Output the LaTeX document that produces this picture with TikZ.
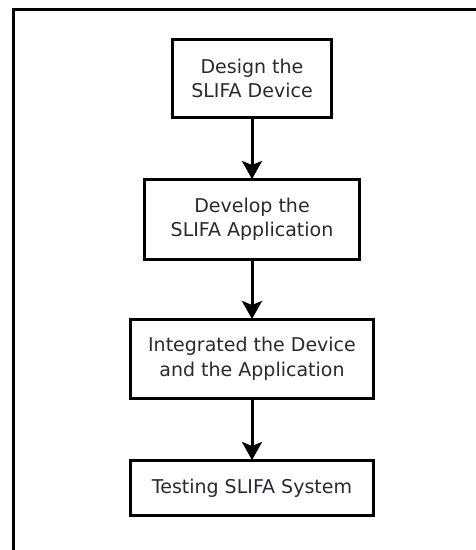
\documentclass[tikz,border=0pt]{standalone}
\usepackage{fontspec}
\setmainfont{DejaVu Sans}
\usetikzlibrary{arrows.meta}
\definecolor{txt}{HTML}{2A2830}
\begin{document}
\begin{tikzpicture}[x=1pt,y=-1pt,
  stepbox/.style={draw=black, line width=3pt, align=center, inner sep=0pt,
    text=txt, font=\fontsize{19}{24.5}\selectfont},
  flow/.style={line width=3pt, -{Stealth[length=18pt,width=20pt,inset=4pt]}, shorten >=-1pt}]
\useasboundingbox (0,0) rectangle (476,550);
\coordinate (fbl) at (13,552);
\coordinate (ftl) at (13,9);
\coordinate (ftr) at (478,9);
\draw[line width=3pt] (fbl) -- (ftl) -- (ftr);
\node[stepbox, minimum width=159pt, minimum height=78pt] (a) at (252,78.5) {Design the\\SLIFA Device};
\node[stepbox, minimum width=215pt, minimum height=80pt] (b) at (252,219.5) {Develop the\\SLIFA Application};
\node[stepbox, minimum width=243pt, minimum height=79pt] (c) at (252,359) {Integrated the Device\\and the Application};
\node[stepbox, minimum width=243pt, minimum height=55pt] (d) at (252,488) {Testing SLIFA System};
\draw[flow] (a) -- (b);
\draw[flow] (b) -- (c);
\draw[flow] (c) -- (d);
\end{tikzpicture}
\end{document}
